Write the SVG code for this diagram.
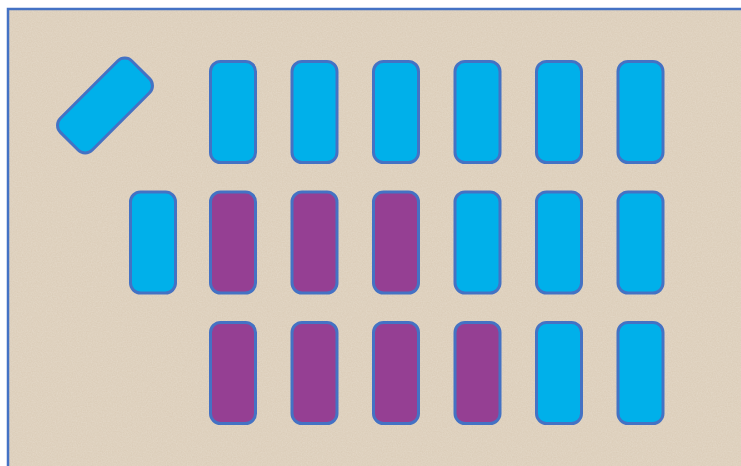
<svg xmlns="http://www.w3.org/2000/svg" width="741" height="466" viewBox="0 0 741 466">
<style>
.tile{stroke:#4472C4;stroke-width:3}
.b{fill:#00B0EA}
.p{fill:#953F93}
</style>
<defs>
<filter id="grain" x="0" y="0" width="100%" height="100%">
<feTurbulence type="fractalNoise" baseFrequency="0.8" numOctaves="2" seed="3" result="n"/>
<feColorMatrix in="n" type="matrix" values="0 0 0 0 0.9  0 0 0 0 0.84  0 0 0 0 0.76  0 0 0 0.35 0" result="c"/>
<feComposite in="c" in2="SourceGraphic" operator="atop"/>
</filter>
<rect id="t" width="45" height="101" rx="10"/>
</defs>
<rect width="741" height="466" fill="#ffffff"/>
<rect x="8" y="9" width="740" height="465" fill="#DACBB6" filter="url(#grain)"/>
<rect x="8" y="9" width="740" height="465" fill="none" stroke="#4472C4" stroke-width="2.5"/>
<g id="tilted"><use href="#t" class="tile b" x="82.5" y="55" transform="rotate(45 105 105.5)"/></g>
<g id="r1c1"><use href="#t" class="tile b" x="210.5" y="61.5"/></g>
<g id="r1c2"><use href="#t" class="tile b" x="292" y="61.5"/></g>
<g id="r1c3"><use href="#t" class="tile b" x="373.5" y="61.5"/></g>
<g id="r1c4"><use href="#t" class="tile b" x="455" y="61.5"/></g>
<g id="r1c5"><use href="#t" class="tile b" x="536.5" y="61.5"/></g>
<g id="r1c6"><use href="#t" class="tile b" x="618" y="61.5"/></g>
<g id="r2c0"><use href="#t" class="tile b" x="130.5" y="192"/></g>
<g id="r2c1"><use href="#t" class="tile p" x="210.5" y="192"/></g>
<g id="r2c2"><use href="#t" class="tile p" x="292" y="192"/></g>
<g id="r2c3"><use href="#t" class="tile p" x="373.5" y="192"/></g>
<g id="r2c4"><use href="#t" class="tile b" x="455" y="192"/></g>
<g id="r2c5"><use href="#t" class="tile b" x="536.5" y="192"/></g>
<g id="r2c6"><use href="#t" class="tile b" x="618" y="192"/></g>
<g id="r3c1"><use href="#t" class="tile p" x="210.5" y="322.5"/></g>
<g id="r3c2"><use href="#t" class="tile p" x="292" y="322.5"/></g>
<g id="r3c3"><use href="#t" class="tile p" x="373.5" y="322.5"/></g>
<g id="r3c4"><use href="#t" class="tile p" x="455" y="322.5"/></g>
<g id="r3c5"><use href="#t" class="tile b" x="536.5" y="322.5"/></g>
<g id="r3c6"><use href="#t" class="tile b" x="618" y="322.5"/></g>
</svg>
